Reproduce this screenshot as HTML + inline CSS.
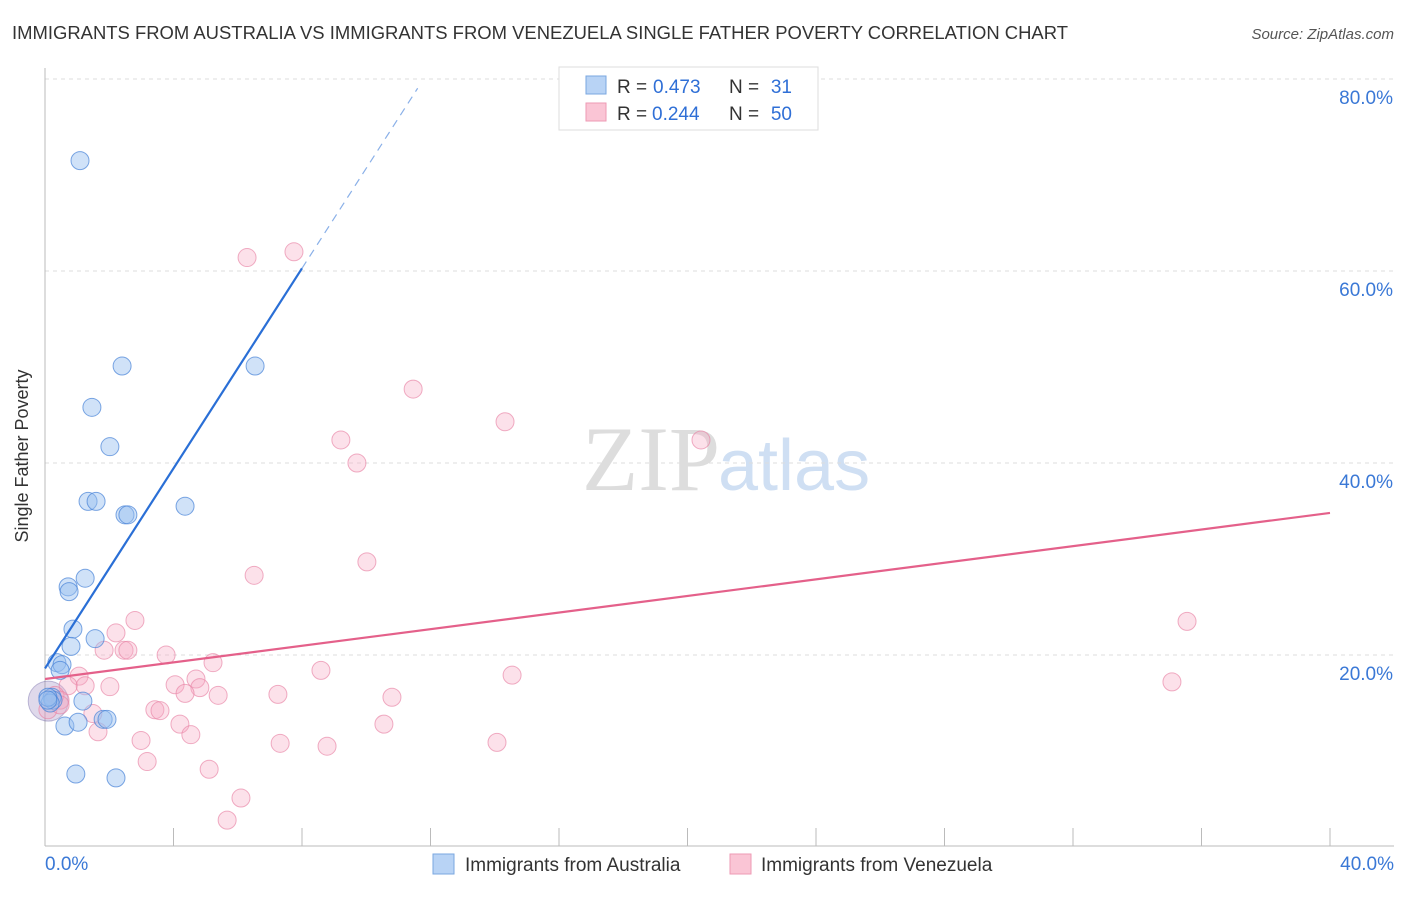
<!DOCTYPE html>
<html><head><meta charset="utf-8"><style>
body{margin:0;background:#fff;font-family:"Liberation Sans",sans-serif}
</style></head><body>
<svg width="1406" height="892" xmlns="http://www.w3.org/2000/svg">
<text x="12" y="39" font-size="18" fill="#333" textLength="1056" lengthAdjust="spacingAndGlyphs">IMMIGRANTS FROM AUSTRALIA VS IMMIGRANTS FROM VENEZUELA SINGLE FATHER POVERTY CORRELATION CHART</text>
<text x="1394" y="39" font-size="15" fill="#555" font-style="italic" text-anchor="end">Source: ZipAtlas.com</text>
<text x="28" y="456" font-size="18" fill="#333" text-anchor="middle" transform="rotate(-90 28 456)">Single Father Poverty</text>
<text x="720" y="490" font-size="92" fill="#ddd" font-family="Liberation Serif,serif" text-anchor="end">ZIP</text>
<text x="718" y="490" font-size="72" fill="#cfdff3">atlas</text>
<g id="grid"></g><g id="axes"></g><g id="pts"></g><g id="lines"></g>
<g>
<rect x="559" y="67" width="259" height="63" fill="#fff" stroke="#ddd"/>
<rect x="586" y="76" width="20" height="18" fill="#b8d3f5" stroke="#7aa7e0"/>
<rect x="586" y="103" width="20" height="18" fill="#fac5d5" stroke="#ee9ab4"/>
<text x="617" y="93" font-size="19" fill="#333">R =</text>
<text x="653" y="93" font-size="19" fill="#2f6fd6">0.473</text>
<text x="729" y="93" font-size="19" fill="#333">N =</text>
<text x="792" y="93" font-size="19" fill="#2f6fd6" text-anchor="end">31</text>
<text x="617" y="120" font-size="19" fill="#333">R =</text>
<text x="652" y="120" font-size="19" fill="#2f6fd6">0.244</text>
<text x="729" y="120" font-size="19" fill="#333">N =</text>
<text x="792" y="120" font-size="19" fill="#2f6fd6" text-anchor="end">50</text>
</g>
<g>
<rect x="433" y="854" width="21" height="20" fill="#b8d3f5" stroke="#7aa7e0"/>
<text x="465" y="871" font-size="19" fill="#333">Immigrants from Australia</text>
<rect x="730" y="854" width="21" height="20" fill="#fac5d5" stroke="#ee9ab4"/>
<text x="761" y="871" font-size="19" fill="#333">Immigrants from Venezuela</text>
</g>
</svg>
<script>
const blueX=[1.09,2.40,1.46,2.02,1.34,1.59,2.49,2.58,4.36,6.54,1.25,0.72,0.75,0.87,1.56,0.81,0.37,0.53,0.47,0.22,0.25,0.16,0.09,1.18,0.62,1.03,1.81,1.93,0.96,2.21,0.09];
const blueY=[71.5,50.1,45.8,41.7,36.0,36.0,34.6,34.6,35.5,50.1,28.0,27.1,26.6,22.7,21.7,20.9,19.2,19.0,18.4,15.6,15.3,15.0,15.6,15.2,12.6,13.0,13.3,13.3,7.6,7.2,15.3];
const pinkX=[6.29,7.75,11.46,14.32,9.21,9.71,20.42,10.02,6.51,35.55,35.08,14.54,2.80,2.21,1.84,2.46,2.58,3.77,5.23,8.59,1.06,1.25,2.02,4.05,4.70,4.82,5.39,7.25,10.80,4.36,0.72,0.31,0.47,0.09,1.49,3.42,3.58,4.20,4.54,10.55,1.65,2.99,7.32,8.78,14.07,3.18,5.11,6.10,5.67,0.47];
const pinkY=[61.4,62.0,47.7,44.3,42.4,40.0,42.4,29.7,28.3,23.5,17.2,17.9,23.6,22.3,20.5,20.5,20.5,20.0,19.2,18.4,17.8,16.8,16.7,16.9,17.5,16.6,15.8,15.9,15.6,16.0,16.8,15.8,15.3,14.3,13.9,14.3,14.2,12.8,11.7,12.8,12.0,11.1,10.8,10.5,10.9,8.9,8.1,5.1,2.8,14.8];
const yTicks=[20,40,60,80];
const xTickVals=[0,4,8,12,16,20,24,28,32,36,40];
const blueLine=[18.6,5.21];const pinkLine=[17.5,0.4325];
const NS="http://www.w3.org/2000/svg";
const X=v=>45+v/40*1285, Y=v=>847-v*9.6;
function mk(t,a,p){const e=document.createElementNS(NS,t);for(const k in a)e.setAttribute(k,a[k]);document.getElementById(p).appendChild(e);return e;}
yTicks.forEach(v=>{const l=mk('line',{x1:45,x2:1394,y1:Y(v),y2:Y(v),stroke:'#ddd','stroke-dasharray':'4,4'},'grid');


const t=mk('text',{x:1393,y:Y(v)+25,'font-size':19,fill:'#3a78d6','text-anchor':'end'},'grid');t.textContent=v.toFixed(1)+'%';

});
mk('line',{x1:45,x2:45,y1:68,y2:846,stroke:'#bbb'},'axes');
mk('line',{x1:45,x2:1394,y1:846,y2:846,stroke:'#bbb'},'axes');
xTickVals.forEach(v=>{const l=mk('line',{x1:X(v),x2:X(v),y1:828,y2:846,stroke:'#bbb'},'axes');

});
[[0,'0.0%',45,'start'],[40,'40.0%',1394,'end']].forEach(a=>{const t=mk('text',{x:a[2],y:870,'font-size':19,fill:'#3a78d6','text-anchor':a[3]},'axes');t.textContent=a[1];

});
const big=mk('circle',{cx:X(0.1),cy:Y(15.2),r:20,fill:'rgba(150,130,190,0.3)',stroke:'rgba(120,110,170,0.45)'},'pts');


pinkX.forEach((x,i)=>{const c=mk('circle',{cx:X(x),cy:Y(pinkY[i]),r:9,fill:'rgba(246,170,195,0.35)',stroke:'rgba(232,130,165,0.65)'},'pts');

});
blueX.forEach((x,i)=>{const c=mk('circle',{cx:X(x),cy:Y(blueY[i]),r:9,fill:'rgba(150,190,240,0.45)',stroke:'rgba(70,130,215,0.7)'},'pts');

});
const bl=mk('line',{x1:X(0),y1:Y(blueLine[0]),x2:X(8),y2:Y(blueLine[0]+8*blueLine[1]),stroke:'#2a6fd6','stroke-width':2.2},'lines');


const bd=mk('line',{x1:X(8),y1:Y(blueLine[0]+8*blueLine[1]),x2:X(11.6),y2:Y(blueLine[0]+11.6*blueLine[1]),stroke:'#8ab0e8','stroke-width':1.2,'stroke-dasharray':'8,6'},'lines');


const pl=mk('line',{x1:X(0),y1:Y(pinkLine[0]),x2:X(40),y2:Y(pinkLine[0]+40*pinkLine[1]),stroke:'#e4608a','stroke-width':2.2},'lines');


</script>
</body></html>
